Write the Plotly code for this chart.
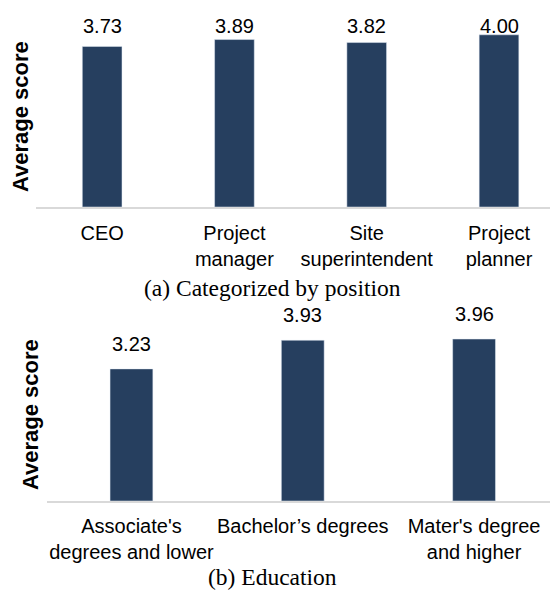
import plotly.graph_objects as go

# (a) by position
positions = ["CEO", "Project<br>manager", "Site<br>superintendent", "Project<br>planner"]
position_scores = [3.73, 3.89, 3.82, 4.00]

# (b) by education
education = ["Associate's<br>degrees and lower", "Bachelor’s degrees", "Mater's degree<br>and higher"]
education_scores = [3.23, 3.93, 3.96]

bar_color = "#263f5f"
sans = "Liberation Sans, Arial, sans-serif"
serif = "Liberation Serif, Times New Roman, serif"

# the page body adds an 8px margin, so the figure is a bit smaller than the window
OFF = 8
W, H = 558 - OFF, 590 - OFF


def fx(px):
    return (px - OFF) / W


def fy(py):
    return 1 - (py - OFF) / H


fig = go.Figure()
fig.add_trace(go.Bar(x=positions, y=position_scores, marker_color=bar_color,
                     width=0.30, xaxis="x", yaxis="y", showlegend=False))
fig.add_trace(go.Bar(x=education, y=education_scores, marker_color=bar_color,
                     width=0.25, xaxis="x2", yaxis="y2", showlegend=False))

# value labels: top row sits on one line along the top, bottom row follows the bars
for cat, val in zip(positions, position_scores):
    fig.add_annotation(x=cat, y=fy(25.5), xref="x", yref="paper", text=f"{val:.2f}",
                       showarrow=False, xanchor="center", yanchor="middle",
                       font=dict(family=sans, size=20, color="black"))
for cat, val in zip(education, education_scores):
    fig.add_annotation(x=cat, y=val, xref="x2", yref="y2", text=f"{val:.2f}",
                       showarrow=False, xanchor="center", yanchor="bottom", yshift=12,
                       font=dict(family=sans, size=20, color="black"))

# y titles
for xp, yp in [(20, 117), (30, 415)]:
    fig.add_annotation(x=fx(xp), y=fy(yp), xref="paper", yref="paper", text="<b>Average score</b>",
                       textangle=-90, showarrow=False, xanchor="center", yanchor="middle",
                       font=dict(family=sans, size=22, color="black"))

# captions
fig.add_annotation(x=fx(272), y=fy(288), xref="paper", yref="paper", text="(a) Categorized by position",
                   showarrow=False, xanchor="center", yanchor="middle",
                   font=dict(family=serif, size=23.5, color="black"))
fig.add_annotation(x=fx(272), y=fy(577), xref="paper", yref="paper", text="(b) Education",
                   showarrow=False, xanchor="center", yanchor="middle",
                   font=dict(family=serif, size=23.5, color="black"))

axis_common = dict(showline=True, linecolor="#d9d9d9", linewidth=1.5, ticks="",
                   showgrid=False, zeroline=False,
                   tickfont=dict(family=sans, size=20, color="black"))
yaxis_common = dict(showticklabels=False, showgrid=False, zeroline=False, showline=False, ticks="")

fig.update_layout(
    width=W, height=H,
    margin=dict(l=0, r=0, t=0, b=0),
    plot_bgcolor="white", paper_bgcolor="white",
    xaxis=dict(domain=[fx(36), 1], range=[-0.5, 3.446], anchor="y", ticklabelstandoff=7, **axis_common),
    yaxis=dict(domain=[fy(207), 1], range=[0, (207 - OFF) / 43.05], anchor="x", **yaxis_common),
    xaxis2=dict(domain=[fx(47), 1], range=[-0.493, 2.49], anchor="y2", ticklabelstandoff=6, **axis_common),
    yaxis2=dict(domain=[fy(501), fy(310)], range=[0, 191 / 40.9], anchor="x2", **yaxis_common),
)

fig.write_html("out.html")
